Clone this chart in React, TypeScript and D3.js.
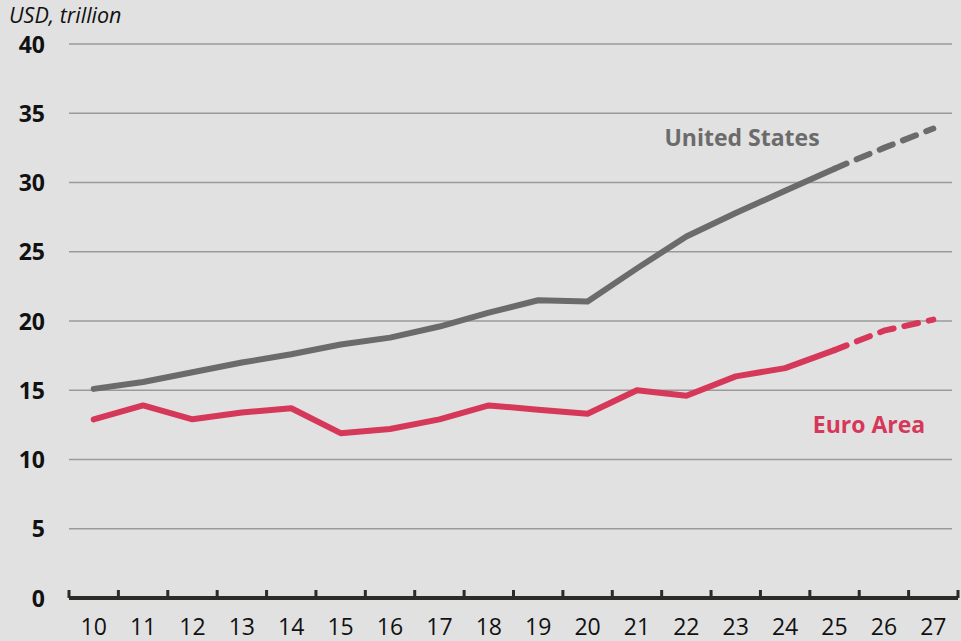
import React from "react";
import * as d3 from "d3";

const years = ["10","11","12","13","14","15","16","17","18","19","20","21","22","23","24","25","26","27"];
const usValues = [15.1,15.6,16.3,17.0,17.6,18.3,18.8,19.6,20.6,21.5,21.4,23.8,26.1,27.8,29.4,31.0,32.5,33.9];
const euroValues = [12.9,13.9,12.9,13.4,13.7,11.9,12.2,12.9,13.9,13.6,13.3,15.0,14.6,16.0,16.6,17.9,19.3,20.1];
const yTicks = [0,5,10,15,20,25,30,35,40];
const forecastStart = 15; // index of "25"

const W = 961, H = 641;
const FONT = "'Open Sans', sans-serif";

export default function App() {
  const x = d3.scaleBand<string>().domain(years).range([69, 958]);
  const y = d3.scaleLinear().domain([0, 40]).range([598, 44]);
  const cx = (i: number) => (x(years[i]) as number) + x.bandwidth() / 2;
  const line = d3.line<number>().x((_, i) => cx(i)).y((d) => y(d));
  const lineOff = (off: number) => d3.line<number>().x((_, i) => cx(i + off)).y((d) => y(d));

  const series = [
    { values: usValues, color: "#6b6b6b" },
    { values: euroValues, color: "#d6385a" },
  ];

  return (
    <svg width={W} height={H} style={{ position: "absolute", left: 0, top: 0, background: "#e1e1e1" }}>
      <rect x={0} y={0} width={W} height={H} fill="#e1e1e1" />
      <text x={9} y={22.5} fontFamily={FONT} fontStyle="italic" fontSize={21.5} fill="#111">USD, trillion</text>
      {yTicks.map((t) => (
        <g key={t}>
          {t > 0 && <line x1={69} x2={952} y1={y(t)} y2={y(t)} stroke="#9a9a9a" strokeWidth={1.5} />}
          <text x={45} y={y(t) + 8.5} textAnchor="end" fontFamily={FONT} fontWeight="bold" fontSize={23} fill="#111">{t}</text>
        </g>
      ))}
      {series.map((s, k) => (
        <g key={k}>
          <path d={line(s.values.slice(0, forecastStart + 1)) || ""} fill="none" stroke={s.color} strokeWidth={6} strokeLinecap="round" strokeLinejoin="round" />
          <path d={lineOff(forecastStart)(s.values.slice(forecastStart)) || ""} fill="none" stroke={s.color} strokeWidth={6} strokeLinecap="round" strokeLinejoin="round" strokeDasharray="14 11" strokeDashoffset={-24} />
        </g>
      ))}
      <line x1={69} x2={958} y1={598} y2={598} stroke="#2b2b28" strokeWidth={4} />
      {years.map((yr) => (
        <line key={"t" + yr} x1={(x(yr) as number)} x2={(x(yr) as number)} y1={590} y2={598} stroke="#2b2b28" strokeWidth={3} />
      ))}
      <line x1={958} x2={958} y1={590} y2={598} stroke="#2b2b28" strokeWidth={3} />
      {years.map((yr, i) => (
        <text key={"l" + yr} x={cx(i)} y={635} textAnchor="middle" fontFamily={FONT} fontSize={23} fill="#111">{yr}</text>
      ))}
      <text x={742} y={146} textAnchor="middle" fontFamily={FONT} fontWeight="bold" fontSize={23} fill="#6b6b6b">United States</text>
      <text x={869} y={433} textAnchor="middle" fontFamily={FONT} fontWeight="bold" fontSize={23} fill="#d6385a">Euro Area</text>
    </svg>
  );
}
